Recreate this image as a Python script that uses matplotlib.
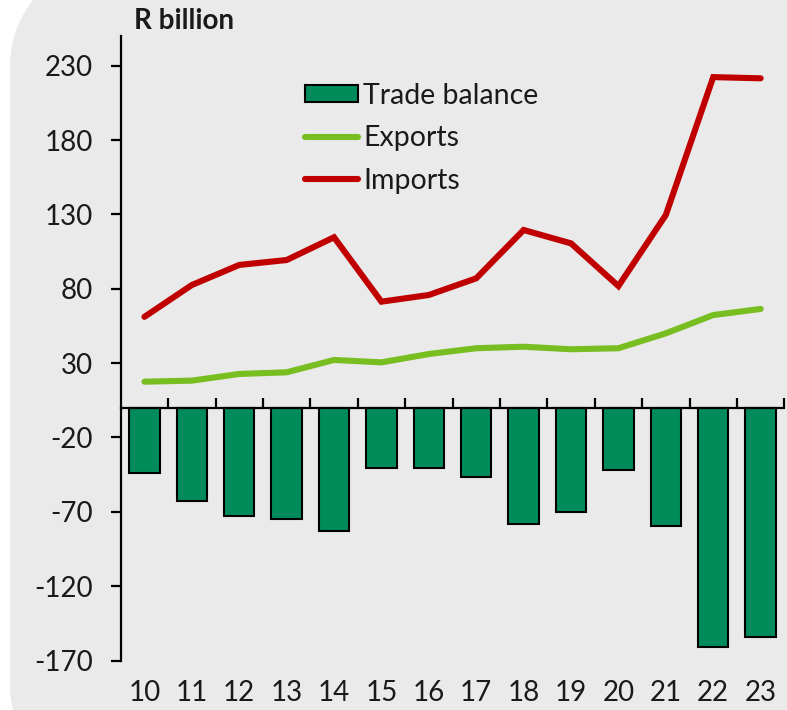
import matplotlib
matplotlib.use("Agg")
import matplotlib.pyplot as plt
from matplotlib.patches import Patch, PathPatch
from matplotlib.path import Path
from matplotlib.lines import Line2D
import numpy as np

plt.rcParams['font.family'] = ['Lato', 'DejaVu Sans']
plt.rcParams['axes.unicode_minus'] = False

# --- data (R billion) ---
years = ["10", "11", "12", "13", "14", "15", "16", "17", "18", "19", "20", "21", "22", "23"]
exports = [17.5, 18.2, 22.7, 23.8, 32.1, 30.5, 36.1, 40.0, 41.0, 39.3, 40.0, 50.0, 62.3, 66.4]
imports = [61.1, 82.5, 96.0, 99.3, 114.6, 71.3, 75.8, 87.0, 119.5, 110.5, 81.8, 129.6, 222.3, 221.5]
trade_balance = [-44.1, -63.0, -73.0, -74.9, -82.7, -40.5, -40.5, -46.4, -78.4, -69.9, -41.9, -79.8, -160.9, -154.0]

bar_green = "#008C5A"
line_green = "#78BE20"
line_red = "#C00000"
bg = "#EAEAEA"

W, H = 787, 710
fig = plt.figure(figsize=(W / 100, H / 100), dpi=100)


def rounded_panel(x0, y0, x1, y1, r, n=40):
    """Rounded rectangle outline in pixel units, returned in figure fraction."""
    pts = []
    for cx, cy, a0 in [(x1 - r, y1 - r, 0), (x0 + r, y1 - r, 90),
                       (x0 + r, y0 + r, 180), (x1 - r, y0 + r, 270)]:
        t = np.radians(np.linspace(a0, a0 + 90, n))
        pts += list(zip(cx + r * np.cos(t), cy + r * np.sin(t)))
    pts.append(pts[0])
    pts = np.array(pts) / [W, H]
    return Path(pts)


# grey panel with a rounded left side, running past the right edge
panel = PathPatch(rounded_panel(10, -81, 1100, 750, 106),
                  transform=fig.transFigure, facecolor=bg, edgecolor="none",
                  zorder=-10)
fig.patches.append(panel)

ax = fig.add_axes([0.1534, 0.0697, 0.8432, 0.8797])
ax.set_facecolor("none")

x = np.arange(len(years))
ax.bar(x, trade_balance, width=0.64, color=bar_green, edgecolor="black",
       linewidth=1.5, zorder=2)
ax.plot(x, exports, color=line_green, linewidth=4.4, solid_capstyle="round",
        solid_joinstyle="miter", zorder=3)
ax.plot(x, imports, color=line_red, linewidth=4.4, solid_capstyle="round",
        solid_joinstyle="miter", zorder=4)

ax.set_xlim(-0.5, len(years) - 0.5)
ax.set_ylim(-170, 250)
ax.set_yticks([230, 180, 130, 80, 30, -20, -70, -120, -170])

# zero line with category-boundary ticks pointing up (uses the top spine)
ax.spines["top"].set_position(("data", 0))
ax.spines["top"].set_linewidth(1.6)
ax.spines["bottom"].set_visible(False)
ax.spines["right"].set_visible(False)
ax.spines["left"].set_linewidth(1.6)

ax.set_xticks(x)
ax.set_xticklabels(years)
ax.set_xticks(np.arange(0.5, len(years), 1), minor=True)
ax.tick_params(axis="x", which="major", length=0, pad=14, labelsize=20,
               bottom=True, top=False, colors="#1a1a1a")
ax.tick_params(axis="x", which="minor", top=True, bottom=False,
               direction="out", length=7, width=1.6)
ax.tick_params(axis="y", direction="out", length=7, width=1.6, pad=13,
               labelsize=20, labelcolor="#1a1a1a")

fig.text(0.170, 0.971, "R billion", fontsize=20, fontweight="bold",
         va="center", ha="left", color="#1a1a1a")

handles = [
    Patch(facecolor=bar_green, edgecolor="black", linewidth=1.5),
    Line2D([], [], color=line_green, linewidth=4.4, solid_capstyle="round"),
    Line2D([], [], color=line_red, linewidth=4.4, solid_capstyle="round"),
]
leg = ax.legend(handles, ["Trade balance", "Exports", "Imports"],
                loc="upper left", bbox_to_anchor=(0.2606, 0.9436), frameon=False,
                fontsize=20.5, handlelength=1.86, handleheight=0.53,
                handletextpad=0.18, labelspacing=0.58, borderaxespad=0)
for t in leg.get_texts():
    t.set_color("#1a1a1a")

fig.savefig("out.png", dpi=100)
